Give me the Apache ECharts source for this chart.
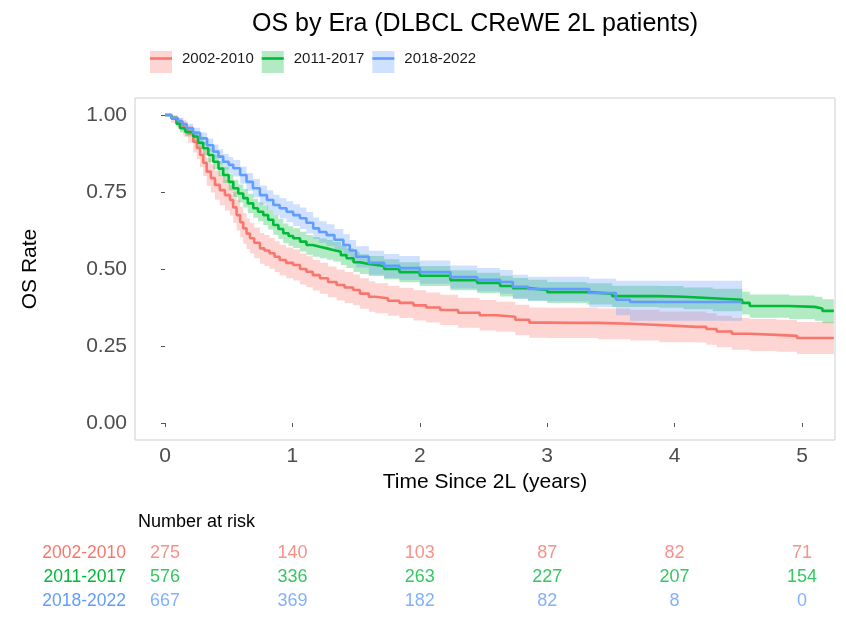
<!DOCTYPE html>
<html><head><meta charset="utf-8">
<script src="https://cdn.jsdelivr.net/npm/echarts@6/dist/echarts.min.js"></script>
<style>html,body{margin:0;padding:0;background:#fff}#c{width:846px;height:618px}</style>
</head><body><div id="c"></div>
<script>
const groups = ['2002-2010', '2011-2017', '2018-2022'];
const lineColors = ['#F8766D', '#00BA38', '#619CFF'];
const bandColors = ['rgba(248,118,109,0.3)', 'rgba(0,186,56,0.3)', 'rgba(97,156,255,0.3)'];

// 2002-2010
const redT  = [0,0.05,0.1,0.144,0.18,0.222,0.25,0.275,0.3,0.327,0.36,0.392,0.43,0.47,0.51,0.535,0.562,0.59,0.614,0.64,0.667,0.7,0.745,0.78,0.82,0.86,0.9,0.95,1.006,1.06,1.11,1.16,1.216,1.28,1.347,1.41,1.477,1.53,1.6,1.65,1.75,1.84,1.95,2.05,2.16,2.3,2.47,2.6,2.75,2.86,3.0,3.2,3.4,3.65,3.88,4.17,4.25,4.33,4.45,4.59,4.8,4.96,5.25];
const redS  = [1.0,0.99,0.975,0.957,0.94,0.913,0.893,0.87,0.845,0.816,0.795,0.773,0.756,0.74,0.724,0.70,0.675,0.652,0.632,0.615,0.60,0.585,0.567,0.56,0.551,0.54,0.529,0.52,0.513,0.50,0.491,0.48,0.47,0.458,0.448,0.44,0.432,0.42,0.41,0.405,0.397,0.39,0.382,0.375,0.367,0.358,0.35,0.345,0.335,0.326,0.325,0.325,0.322,0.318,0.312,0.312,0.305,0.297,0.29,0.286,0.283,0.276,0.276];
const redLo = [1.0,0.975,0.955,0.93,0.91,0.878,0.856,0.83,0.802,0.77,0.748,0.725,0.707,0.69,0.674,0.65,0.625,0.602,0.582,0.565,0.55,0.535,0.517,0.51,0.501,0.49,0.479,0.47,0.463,0.45,0.441,0.43,0.42,0.408,0.398,0.39,0.382,0.371,0.361,0.356,0.348,0.341,0.333,0.326,0.318,0.309,0.30,0.296,0.286,0.277,0.276,0.276,0.272,0.268,0.262,0.261,0.254,0.246,0.238,0.234,0.231,0.224,0.224];
const redHi = [1.0,1.0,0.99,0.978,0.965,0.945,0.928,0.908,0.886,0.86,0.84,0.82,0.804,0.789,0.773,0.75,0.725,0.702,0.682,0.665,0.65,0.635,0.617,0.61,0.601,0.59,0.579,0.57,0.563,0.55,0.541,0.53,0.52,0.508,0.498,0.49,0.482,0.47,0.46,0.454,0.446,0.439,0.431,0.424,0.416,0.407,0.399,0.394,0.384,0.375,0.374,0.374,0.372,0.368,0.362,0.362,0.356,0.348,0.341,0.338,0.335,0.328,0.328];

// 2011-2017
const greenT  = [0,0.05,0.09,0.118,0.16,0.222,0.26,0.3,0.34,0.379,0.42,0.457,0.5,0.536,0.575,0.614,0.65,0.693,0.73,0.771,0.81,0.85,0.89,0.928,0.97,1.006,1.06,1.11,1.16,1.216,1.27,1.32,1.38,1.425,1.48,1.53,1.6,1.72,1.84,2.0,2.24,2.45,2.63,2.73,2.85,3.0,3.31,3.51,3.88,4.07,4.3,4.53,4.59,4.9,5.1,5.16,5.25];
const greenS  = [1.0,0.99,0.972,0.957,0.945,0.93,0.91,0.892,0.87,0.848,0.826,0.805,0.783,0.762,0.745,0.73,0.713,0.697,0.686,0.675,0.66,0.643,0.63,0.616,0.607,0.60,0.589,0.578,0.572,0.567,0.562,0.556,0.545,0.535,0.522,0.516,0.51,0.50,0.49,0.478,0.464,0.455,0.445,0.438,0.432,0.425,0.42,0.412,0.41,0.405,0.40,0.39,0.38,0.377,0.372,0.364,0.364];
const greenLo = [1.0,0.984,0.962,0.944,0.93,0.912,0.89,0.87,0.847,0.824,0.801,0.779,0.756,0.734,0.716,0.7,0.682,0.666,0.655,0.643,0.628,0.611,0.598,0.584,0.575,0.568,0.557,0.546,0.54,0.535,0.53,0.524,0.513,0.503,0.49,0.484,0.477,0.467,0.457,0.445,0.431,0.422,0.411,0.404,0.398,0.39,0.385,0.377,0.374,0.369,0.363,0.352,0.342,0.338,0.332,0.324,0.324];
const greenHi = [1.0,0.996,0.982,0.97,0.96,0.948,0.93,0.914,0.893,0.872,0.851,0.831,0.81,0.79,0.774,0.76,0.744,0.728,0.717,0.707,0.692,0.675,0.662,0.648,0.639,0.632,0.621,0.61,0.604,0.599,0.594,0.588,0.577,0.567,0.554,0.548,0.542,0.532,0.522,0.51,0.496,0.488,0.478,0.471,0.465,0.458,0.454,0.446,0.445,0.44,0.436,0.426,0.417,0.414,0.41,0.402,0.402];

// 2018-2022
const blueT  = [0,0.05,0.1,0.135,0.17,0.22,0.275,0.33,0.379,0.42,0.457,0.5,0.536,0.59,0.64,0.69,0.745,0.8,0.85,0.9,0.954,1.006,1.059,1.11,1.163,1.21,1.268,1.33,1.4,1.45,1.5,1.6,1.72,1.84,2.0,2.24,2.45,2.63,2.73,2.85,3.33,3.54,3.65,4.53];
const blueS  = [1.0,0.99,0.98,0.97,0.957,0.942,0.924,0.902,0.881,0.865,0.848,0.838,0.827,0.805,0.783,0.762,0.74,0.724,0.708,0.697,0.686,0.675,0.665,0.65,0.632,0.62,0.61,0.595,0.578,0.56,0.54,0.52,0.51,0.503,0.49,0.474,0.465,0.458,0.442,0.435,0.422,0.40,0.393,0.393];
const blueLo = [1.0,0.985,0.97,0.957,0.942,0.925,0.905,0.881,0.858,0.841,0.823,0.812,0.8,0.777,0.754,0.732,0.709,0.692,0.675,0.664,0.652,0.64,0.63,0.615,0.597,0.585,0.575,0.56,0.543,0.525,0.505,0.481,0.471,0.464,0.452,0.437,0.428,0.42,0.403,0.395,0.376,0.35,0.332,0.332];
const blueHi = [1.0,0.995,0.99,0.983,0.972,0.959,0.943,0.923,0.904,0.889,0.873,0.864,0.854,0.833,0.812,0.792,0.771,0.756,0.741,0.73,0.72,0.71,0.7,0.685,0.667,0.655,0.645,0.63,0.613,0.594,0.574,0.559,0.549,0.542,0.528,0.511,0.503,0.497,0.481,0.475,0.468,0.462,0.462,0.462];

// Number at risk
const riskTimes = [0, 1, 2, 3, 4, 5];
const riskRed   = [275, 140, 103, 87, 82, 71];
const riskGreen = [576, 336, 263, 227, 207, 154];
const riskBlue  = [667, 369, 182, 82, 8, 0];

const xTicks = [0, 1, 2, 3, 4, 5];
const yTicks = [0, 0.25, 0.5, 0.75, 1.0];

const curves = [
  {t: redT, s: redS, lo: redLo, hi: redHi},
  {t: greenT, s: greenS, lo: greenLo, hi: greenHi},
  {t: blueT, s: blueS, lo: blueLo, hi: blueHi}
];
const risks = [riskRed, riskGreen, riskBlue];

const FONT = 'Liberation Sans, Arial, Helvetica, sans-serif';
const series = [];

// confidence bands: step polygons drawn through the axis scales
curves.forEach((c, i) => {
  series.push({
    name: groups[i] + ' CI', type: 'custom', silent: true, z: 1,
    itemStyle: {color: bandColors[i]},
    data: [[c.t[0], c.hi[0]]],
    renderItem: function (params, api) {
      const pts = [];
      const n = c.t.length;
      for (let k = 0; k < n; k++) {
        const p = api.coord([c.t[k], c.hi[k]]);
        pts.push(p);
        if (k < n - 1) pts.push([api.coord([c.t[k + 1], 0])[0], p[1]]);
      }
      for (let k = n - 1; k >= 0; k--) {
        const p = api.coord([c.t[k], c.lo[k]]);
        if (k < n - 1) pts.push([api.coord([c.t[k + 1], 0])[0], p[1]]);
        pts.push(p);
      }
      return {type: 'polygon', shape: {points: pts}, style: {fill: bandColors[i]}};
    }
  });
});
curves.forEach((c, i) => {
  series.push({
    name: groups[i], type: 'line', step: 'end',
    data: c.t.map((t, k) => [t, c.s[k]]),
    symbol: 'none', lineStyle: {color: lineColors[i], width: 2.6},
    itemStyle: {color: lineColors[i]}, z: 3, silent: true
  });
});
risks.forEach((r, i) => {
  series.push({
    name: groups[i] + ' risk', type: 'scatter', xAxisIndex: 1, yAxisIndex: 1,
    data: riskTimes.map((t, j) => [t, groups[i], r[j]]),
    symbolSize: 1, itemStyle: {color: 'rgba(0,0,0,0)'}, silent: true,
    label: {show: true, position: 'inside', formatter: p => String(p.value[2]),
      color: lineColors[i], fontSize: 18, fontFamily: FONT}
  });
});

const legendCommon = {
  left: 145, top: 46, itemWidth: 22, itemHeight: 22, itemGap: 8,
  selectedMode: false, orient: 'horizontal'
};

const option = {
  animation: false,
  backgroundColor: '#ffffff',
  textStyle: {fontFamily: FONT},
  title: [
    {text: 'OS by Era (DLBCL CReWE 2L patients)', left: 247, top: 7,
     textStyle: {fontSize: 25, fontWeight: 'normal', color: '#000', fontFamily: FONT}},
    {text: 'Number at risk', left: 133, top: 508,
     textStyle: {fontSize: 18, fontWeight: 'normal', color: '#000', fontFamily: FONT}}
  ],
  legend: [
    Object.assign({}, legendCommon, {
      data: groups.map((g, i) => ({name: g + ' CI', icon: 'rect', itemStyle: {color: bandColors[i], borderWidth: 0}})),
      formatter: n => n.replace(' CI', ''),
      textStyle: {fontSize: 15, color: 'rgba(0,0,0,0)', fontFamily: FONT, padding: [0, 0, 0, 5]}
    }),
    Object.assign({}, legendCommon, {
      data: groups.map((g, i) => ({name: g, icon: 'path://M0,0 L22,0 L22,2.6 L0,2.6 Z', itemStyle: {color: lineColors[i], borderWidth: 0}})),
      textStyle: {fontSize: 15, color: '#1a1a1a', fontFamily: FONT, padding: [0, 0, 0, 5]}
    })
  ],
  grid: [
    {left: 135, right: 11, top: 98, bottom: 178, show: true, borderColor: '#cfcfcf', borderWidth: 1, containLabel: false},
    {left: 135, right: 11, top: 541, height: 72, show: false, containLabel: false}
  ],
  xAxis: [
    {type: 'value', gridIndex: 0, min: -0.2355, max: 5.259,
     name: 'Time Since 2L (years)', nameLocation: 'middle', nameGap: 31,
     nameTextStyle: {fontSize: 21, color: '#000', fontFamily: FONT},
     axisLine: {show: false}, splitLine: {show: false},
     axisTick: {show: true, length: 4, lineStyle: {color: '#555'}, customValues: xTicks},
     axisLabel: {show: true, fontSize: 21, color: '#4d4d4d', margin: 6, customValues: xTicks, formatter: v => String(v), fontFamily: FONT}},
    {type: 'value', gridIndex: 1, min: -0.2355, max: 5.259, show: false}
  ],
  yAxis: [
    {type: 'value', gridIndex: 0, min: -0.0552, max: 1.0552,
     name: 'OS Rate', nameLocation: 'middle', nameGap: 94, nameRotate: 90,
     nameTextStyle: {fontSize: 21, color: '#000', fontFamily: FONT},
     axisLine: {show: false}, splitLine: {show: false},
     axisTick: {show: true, length: 4, lineStyle: {color: '#555'}, customValues: yTicks},
     axisLabel: {show: true, fontSize: 21, color: '#4d4d4d', margin: 8, customValues: yTicks, formatter: v => v.toFixed(2), fontFamily: FONT}},
    {type: 'category', gridIndex: 1, data: groups, inverse: true,
     axisLine: {show: false}, axisTick: {show: false}, splitLine: {show: false},
     axisLabel: {show: true, fontSize: 17.5, margin: 9, fontFamily: FONT,
       color: (v, idx) => lineColors[groups.indexOf(v)]}}
  ],
  series: series
};

const chart = echarts.init(document.getElementById('c'), null, {renderer: 'canvas'});
chart.setOption(option);
</script>
</body></html>
